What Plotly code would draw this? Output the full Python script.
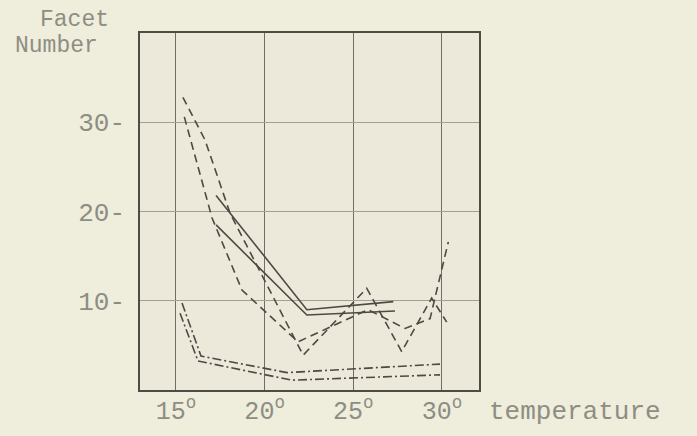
import plotly.graph_objects as go

# ---- data ----
temp_dash_a = [15.39, 16.64, 18.05, 22.17, 25.76, 27.73, 29.42, 30.27]
facet_dash_a = [32.8, 28.0, 19.8, 3.9, 11.4, 4.3, 10.3, 7.6]

temp_dash_b = [15.47, 17.03, 18.72, 21.88, 25.83, 27.92, 29.33, 30.36]
facet_dash_b = [30.6, 19.3, 11.2, 5.4, 9.0, 6.9, 8.0, 16.6]

temp_solid_a = [17.26, 22.38, 27.26]
facet_solid_a = [21.8, 9.0, 9.9]

temp_solid_b = [17.26, 22.38, 27.35]
facet_solid_b = [18.5, 8.4, 8.85]

temp_dashdot_a = [15.34, 16.41, 21.26, 29.89]
facet_dashdot_a = [9.75, 3.8, 1.95, 2.9]

temp_dashdot_b = [15.23, 16.24, 21.54, 29.89]
facet_dashdot_b = [8.6, 3.25, 1.1, 1.7]

x_tick_vals = [15, 20, 25, 30]
x_tick_text = ["15<sup>o</sup>", "20<sup>o</sup>", "25<sup>o</sup>", "30<sup>o</sup>"]
y_tick_vals = [10, 20, 30]
y_tick_text = ["10-", "20-", "30-"]

INK = "#4b4a43"
TYPE = "#8e8d84"
FONT = "Liberation Mono"
PAPER = "#efeddb"

fig = go.Figure()

def add(xs, ys, dash):
    fig.add_trace(go.Scatter(x=xs, y=ys, mode="lines",
                             line=dict(color=INK, width=1.6, dash=dash),
                             showlegend=False, hoverinfo="skip"))

add(temp_dash_a, facet_dash_a, "8px,5px")
add(temp_dash_b, facet_dash_b, "8px,5px")
add(temp_solid_a, facet_solid_a, "solid")
add(temp_solid_b, facet_solid_b, "solid")
add(temp_dashdot_a, facet_dashdot_a, "9px,3px,2px,3px")
add(temp_dashdot_b, facet_dashdot_b, "9px,3px,2px,3px")

fig.update_layout(
    width=697, height=436,
    margin=dict(l=140, r=218, t=33, b=46, pad=0, autoexpand=False),
    paper_bgcolor=PAPER,
    plot_bgcolor="#ece8da",
    font=dict(family=FONT, color=TYPE, size=26),
    xaxis=dict(range=[12.97, 32.09], tickvals=x_tick_vals, ticktext=x_tick_text,
               showgrid=True, gridcolor="#6f6e66", gridwidth=1,
               showline=True, mirror=True, linecolor="#4d4c45", linewidth=1.6,
               ticks="", ticklabelstandoff=-3,
               automargin=False, zeroline=False,
               tickfont=dict(family=FONT, size=25, color=TYPE)),
    yaxis=dict(range=[0, 40], tickvals=y_tick_vals, ticktext=y_tick_text,
               showgrid=True, gridcolor="#a3a093", gridwidth=1,
               showline=True, mirror=True, linecolor="#4d4c45", linewidth=1.6,
               ticks="", ticklabelstandoff=8, automargin=False,
               zeroline=False, tickfont=dict(family=FONT, size=26, color=TYPE)),
    annotations=[
        dict(text="Facet", xref="paper", yref="paper", x=-0.301, y=1.036,
             xanchor="left", yanchor="middle", showarrow=False,
             font=dict(family=FONT, size=23, color=TYPE)),
        dict(text="Number", xref="paper", yref="paper", x=-0.375, y=0.964,
             xanchor="left", yanchor="middle", showarrow=False,
             font=dict(family=FONT, size=23, color=TYPE)),
        dict(text="temperature", xref="paper", yref="paper", x=1.0236, y=-0.062,
             xanchor="left", yanchor="middle", showarrow=False,
             font=dict(family=FONT, size=26, color=TYPE)),
    ],
)

fig.write_html(
    "out.html",
    config={"displayModeBar": False},
    post_script="document.body.style.margin='0';document.body.style.background='%s';" % PAPER,
)
